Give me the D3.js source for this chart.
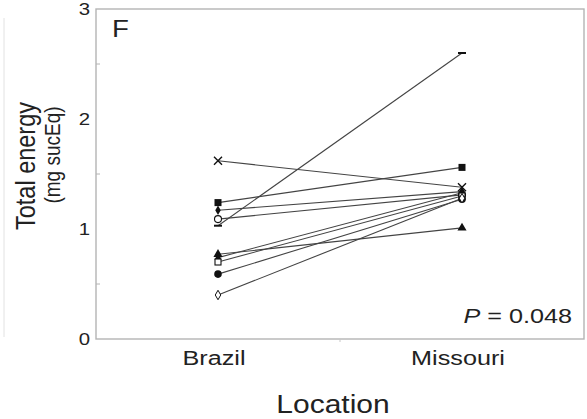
<!DOCTYPE html>
<html>
<head>
<meta charset="utf-8">
<script src="https://cdn.jsdelivr.net/npm/d3@7"></script>
<style>
  html, body { margin: 0; padding: 0; background: #fff; }
  svg { display: block; }
  text { font-family: "Liberation Sans", Arial, sans-serif; fill: #222; }
</style>
</head>
<body>
<svg id="chart" width="587" height="419"></svg>
<script>
// Paired measurements: each subject measured in Brazil and in Missouri
const locations = ["Brazil", "Missouri"];
const symbols = ["cross", "squareFilled", "diamondFilled", "circleOpen", "dash",
                 "triangleFilled", "triangleSmall", "squareOpen", "circleFilled", "diamondOpen"];
const brazilValues   = [1.62, 1.24, 1.17, 1.09, 1.03, 0.77, 0.74, 0.70, 0.59, 0.40];
const missouriValues = [1.38, 1.56, 1.34, 1.31, 2.60, 1.01, 1.33, 1.30, 1.27, 1.28];
const yTicks = [0, 1, 2, 3];
const yMinorTicks = [0.5, 1.5, 2.5];
const pLabel = "0.048";

const svg = d3.select("#chart");
const plotLeft = 96, plotRight = 584, plotTop = 9, plotBottom = 339;
const wide = 1.2; // horizontal stretch of the lettering

const x = d3.scaleBand().domain(locations).range([plotLeft, plotRight]);
const y = d3.scaleLinear().domain([0, 3]).range([plotBottom, plotTop]);
const cx = d => x(d) + x.bandwidth() / 2;

// faint rule at the far left
svg.append("line").attr("x1", 4).attr("x2", 4).attr("y1", 18).attr("y2", 337)
  .attr("stroke", "#e2e2e2").attr("stroke-width", 1);

// plot frame
svg.append("rect").attr("x", plotLeft).attr("y", plotTop)
  .attr("width", plotRight - plotLeft).attr("height", plotBottom - plotTop)
  .attr("fill", "none").attr("stroke", "#b4b4b4").attr("stroke-width", 1.4);

// y axis ticks and labels
const yAxis = svg.append("g").attr("transform", `translate(${plotLeft},0)`)
  .call(d3.axisLeft(y).tickValues(yTicks).tickFormat(d3.format("d")).tickSize(0).tickPadding(5));
yAxis.select(".domain").remove();
yAxis.selectAll("text").style("font-size", "17px").attr("fill", "#333")
  .style("font-family", "'Liberation Sans', Arial, sans-serif")
  .attr("transform", `scale(${wide},1)`);
svg.append("g").selectAll("line").data(yMinorTicks).join("line")
  .attr("x1", plotLeft).attr("x2", plotLeft + 4)
  .attr("y1", d => y(d)).attr("y2", d => y(d))
  .attr("stroke", "#b4b4b4").attr("stroke-width", 1);

// x axis labels and band divider tick
const xAxis = svg.append("g").attr("transform", `translate(0,${plotBottom})`)
  .call(d3.axisBottom(x).tickSize(0).tickPadding(0));
xAxis.select(".domain").remove();
xAxis.selectAll("text").style("font-size", "21px").attr("fill", "#222")
  .style("font-family", "'Liberation Sans', Arial, sans-serif")
  .attr("y", 26).attr("dy", null)
  .attr("transform", `scale(${wide},1)`);
xAxis.selectAll(".tick").attr("transform", d => `translate(${cx(d) - 4},0)`);
svg.append("line").attr("x1", x("Missouri")).attr("x2", x("Missouri"))
  .attr("y1", plotBottom).attr("y2", plotBottom + 3)
  .attr("stroke", "#c8c8c8").attr("stroke-width", 1);

// axis titles
svg.append("text").attr("transform", `translate(333,413) scale(${wide},1)`)
  .attr("text-anchor", "middle").style("font-size", "25px").text("Location");
svg.append("text").attr("transform", `translate(35,166) scale(${wide},1) rotate(-90)`)
  .attr("text-anchor", "middle").style("font-size", "23.5px").text("Total energy");
svg.append("text").attr("transform", "translate(60,155) scale(1.13,1) rotate(-90)")
  .attr("text-anchor", "middle").style("font-size", "19px").text("(mg sucEq)");

// panel letter and test statistic
svg.append("text").attr("transform", `translate(112,37) scale(${wide},1)`)
  .style("font-size", "23px").text("F");
const p = svg.append("text").attr("transform", `translate(572,323) scale(${wide},1)`)
  .attr("text-anchor", "end").style("font-size", "21px");
p.append("tspan").style("font-style", "italic").text("P");
p.append("tspan").text(" = " + pLabel);

// connecting lines
const pairs = brazilValues.map((b, i) => ({ b, m: missouriValues[i], s: symbols[i] }));
svg.append("g").selectAll("line").data(pairs).join("line")
  .attr("x1", cx("Brazil")).attr("y1", d => y(d.b))
  .attr("x2", cx("Missouri")).attr("y2", d => y(d.m))
  .attr("stroke", "#444").attr("stroke-width", 1.1);

// markers
function drawMarker(g, s, px, py) {
  const k = "#111";
  switch (s) {
    case "cross":
      g.append("path").attr("d", `M${px-4},${py-4}L${px+4},${py+4}M${px-4},${py+4}L${px+4},${py-4}`)
        .attr("stroke", k).attr("stroke-width", 1.4); break;
    case "squareFilled":
      g.append("rect").attr("x", px - 3.5).attr("y", py - 3.5).attr("width", 7).attr("height", 7).attr("fill", k); break;
    case "squareOpen":
      g.append("rect").attr("x", px - 3).attr("y", py - 3).attr("width", 6).attr("height", 6)
        .attr("fill", "#fff").attr("stroke", k).attr("stroke-width", 1.1); break;
    case "diamondFilled":
      g.append("path").attr("d", d3.symbol(d3.symbolDiamond, 26)()).attr("transform", `translate(${px},${py})`).attr("fill", k); break;
    case "diamondOpen":
      g.append("path").attr("d", d3.symbol(d3.symbolDiamond, 26)()).attr("transform", `translate(${px},${py})`)
        .attr("fill", "#fff").attr("stroke", k).attr("stroke-width", 1); break;
    case "circleOpen":
      g.append("circle").attr("cx", px).attr("cy", py).attr("r", 3.5)
        .attr("fill", "#fff").attr("stroke", k).attr("stroke-width", 1.1); break;
    case "circleFilled":
      g.append("circle").attr("cx", px).attr("cy", py).attr("r", 3.8).attr("fill", k); break;
    case "triangleFilled":
      g.append("path").attr("d", d3.symbol(d3.symbolTriangle, 36)()).attr("transform", `translate(${px},${py})`).attr("fill", k); break;
    case "triangleSmall":
      g.append("path").attr("d", d3.symbol(d3.symbolTriangle, 22)()).attr("transform", `translate(${px},${py})`).attr("fill", k); break;
    case "dash":
      g.append("line").attr("x1", px - 4).attr("x2", px + 4).attr("y1", py).attr("y2", py)
        .attr("stroke", k).attr("stroke-width", 2); break;
  }
}
const mk = svg.append("g");
pairs.forEach(d => {
  drawMarker(mk, d.s, cx("Brazil"), y(d.b));
  drawMarker(mk, d.s, cx("Missouri"), y(d.m));
});
</script>
</body>
</html>
